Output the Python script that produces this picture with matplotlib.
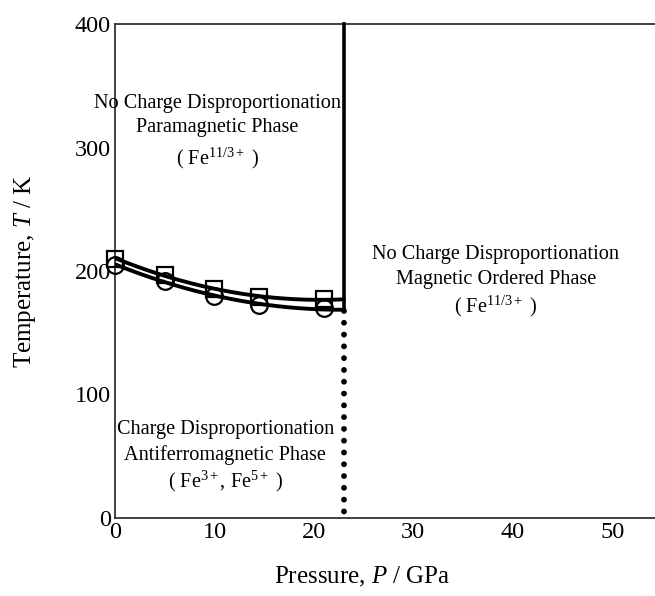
import numpy as np
import matplotlib
matplotlib.use("Agg")
import matplotlib.pyplot as plt

plt.rcParams['font.family'] = ['Liberation Serif', 'DejaVu Serif']
plt.rcParams['mathtext.fontset'] = 'custom'
plt.rcParams['mathtext.rm'] = 'Liberation Serif'
plt.rcParams['mathtext.it'] = 'Liberation Serif:italic'

# Data
P_square = [0, 5, 10, 14.5, 21]
T_square = [210, 197, 185.5, 179, 177]
P_circle = [0, 5, 10, 14.5, 21]
T_circle = [205, 192, 180, 172.5, 170]
P_boundary = 23
T_upper_end = 177
T_lower_end = 168
T_top = 400
x_ticks = [0, 10, 20, 30, 40, 50]
y_ticks = [0, 100, 200, 300, 400]

fig = plt.figure(figsize=(6.55, 5.96), dpi=100)
ax = fig.add_axes([0.1756, 0.1309, 1 - 0.1756, 0.9597 - 0.1309])

# smooth curves through the points up to the boundary
pu = np.polyfit(P_square + [P_boundary], T_square + [T_upper_end], 2)
pl = np.polyfit(P_circle + [P_boundary], T_circle + [T_lower_end], 2)
xs = np.linspace(0, P_boundary, 200)
ax.plot(xs, np.polyval(pu, xs), color='black', lw=2.8, zorder=3)
ax.plot(xs, np.polyval(pl, xs), color='black', lw=2.8, zorder=3)

ax.plot(P_square, T_square, linestyle='none', marker='s', ms=11,
        mfc='none', mec='black', mew=1.6, zorder=4, clip_on=False)
ax.plot(P_circle, T_circle, linestyle='none', marker='o', ms=12,
        mfc='none', mec='black', mew=1.6, zorder=4, clip_on=False)

# phase boundaries
ax.plot([P_boundary, P_boundary], [T_lower_end, T_top], color='black',
        lw=2.6, zorder=3, clip_on=False)
ax.plot([P_boundary, P_boundary], [T_lower_end, 0], color='black', lw=4.2,
        linestyle=(0, (0.001, 2.02)), dash_capstyle='round', zorder=3,
        clip_on=False)

ax.set_xlim(0, 54.3)
ax.set_ylim(0, 400)
ax.set_xticks(x_ticks)
ax.set_yticks(y_ticks)
ax.tick_params(length=0, labelsize=17.5, pad=3)
for s in ['left', 'bottom', 'top']:
    ax.spines[s].set_color('#333333')
    ax.spines[s].set_linewidth(1.3)
ax.spines['right'].set_visible(False)

ax.set_xlabel('Pressure, $\\mathit{P}$ / GPa', fontsize=18)
ax.xaxis.set_label_coords(24.9 / 54.3, -0.095)
ax.set_ylabel('Temperature, $\\mathit{T}$ / K', fontsize=18)
ax.yaxis.set_label_coords(-0.142, 0.5)

fs = 14.6
region_labels = [
    (10.3, [336, 315.8, 291.5],
     ['No Charge Disproportionation', 'Paramagnetic Phase', '( Fe$^{11/3+}$ )']),
    (38.3, [213, 193.5, 171.5],
     ['No Charge Disproportionation', 'Magnetic Ordered Phase', '( Fe$^{11/3+}$ )']),
    (11.1, [71.3, 51, 29.5],
     ['Charge Disproportionation', 'Antiferromagnetic Phase', '( Fe$^{3+}$, Fe$^{5+}$ )']),
]
for xp, ys, lines in region_labels:
    for yp, line in zip(ys, lines):
        ax.text(xp, yp, line, ha='center', va='center', fontsize=fs)

fig.savefig('out.png', dpi=100)
